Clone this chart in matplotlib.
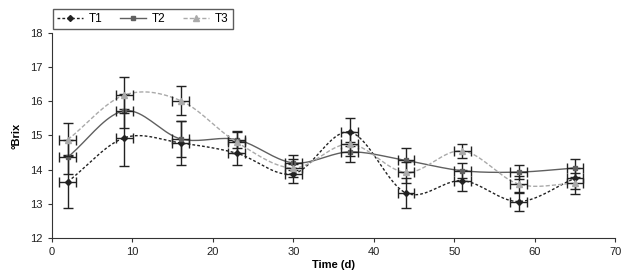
import numpy as np
import matplotlib
matplotlib.use('Agg')
from matplotlib import pyplot as plt

plt.rcParams['font.family'] = ['Liberation Sans Narrow', 'Liberation Sans', 'DejaVu Sans']
plt.rcParams['font.size'] = 8

days = [2, 9, 16, 23, 30, 37, 44, 51, 58, 65]
t1 = [13.65, 14.93, 14.78, 14.48, 13.88, 15.10, 13.32, 13.68, 13.07, 13.75]
t2 = [14.37, 15.72, 14.90, 14.88, 14.20, 14.52, 14.27, 13.97, 13.93, 14.05]
t3 = [14.88, 16.18, 16.02, 14.80, 14.05, 14.75, 13.92, 14.55, 13.58, 13.60]
t1_err = [0.77, 0.83, 0.65, 0.35, 0.28, 0.40, 0.45, 0.30, 0.28, 0.30]
t2_err = [0.50, 0.50, 0.52, 0.25, 0.22, 0.30, 0.35, 0.22, 0.20, 0.25]
t3_err = [0.48, 0.52, 0.42, 0.30, 0.25, 0.35, 0.30, 0.20, 0.25, 0.30]
x_err = 1.05


def smooth(x, y, n=20):
    # catmull-rom style curve through the points, like excel smoothed lines
    x = np.asarray(x, float)
    y = np.asarray(y, float)
    px = np.concatenate([[2 * x[0] - x[1]], x, [2 * x[-1] - x[-2]]])
    py = np.concatenate([[2 * y[0] - y[1]], y, [2 * y[-1] - y[-2]]])
    xs, ys = [], []
    t = np.linspace(0, 1, n)
    for i in range(1, len(px) - 2):
        for p, out in ((px, xs), (py, ys)):
            p0, p1, p2, p3 = p[i - 1], p[i], p[i + 1], p[i + 2]
            c1 = p1 + (p2 - p0) / 6
            c2 = p2 - (p3 - p1) / 6
            out.extend((1 - t) ** 3 * p1 + 3 * (1 - t) ** 2 * t * c1
                       + 3 * (1 - t) * t ** 2 * c2 + t ** 3 * p2)
    return np.array(xs), np.array(ys)


fig = plt.figure(figsize=(6.24, 2.74), dpi=100)
ax = fig.add_axes([0.083, 0.131, 0.903, 0.749])

series = [
    ('T1', t1, t1_err, '#222222', (0, (2, 1.5)), 'D', 3),
    ('T2', t2, t2_err, '#606060', '-', 's', 3.5),
    ('T3', t3, t3_err, '#aaaaaa', (0, (3, 1.5)), '^', 4),
]
handles = []
for name, y, yerr, col, ls, mk, ms in series:
    sx, sy = smooth(days, y)
    ax.plot(sx, sy, color=col, ls=ls, lw=1)
    ax.errorbar(days, y, yerr=yerr, xerr=x_err, fmt='none', ecolor='#222222',
                elinewidth=1, capsize=3.5, capthick=1)
    ax.plot(days, y, ls='none', marker=mk, color=col, ms=ms)
    h, = ax.plot([], [], color=col, ls=ls, lw=1, marker=mk, ms=ms)
    handles.append(h)

ax.set_xlim(0, 70)
ax.set_ylim(12, 18)
ax.set_xticks(range(0, 71, 10))
ax.set_yticks(range(12, 19))
ax.spines['top'].set_visible(False)
ax.spines['right'].set_visible(False)
ax.spines['left'].set_color('#333333')
ax.spines['bottom'].set_color('#333333')
ax.tick_params(direction='out', length=3, colors='#333333', labelcolor='#222222')
ax.set_xlabel('Time (d)', fontweight='bold', labelpad=2)
ax.set_ylabel('°Brix', fontweight='bold', labelpad=6)

fig.legend(handles, ['T1', 'T2', 'T3'], loc='upper left', bbox_to_anchor=(0.075, 0.99),
           ncol=3, frameon=True, fancybox=False, edgecolor='#333333',
           handlelength=2.2, columnspacing=1.5, handletextpad=0.5,
           borderpad=0.35, fontsize=8.5)

fig.savefig('out.png', dpi=100)
